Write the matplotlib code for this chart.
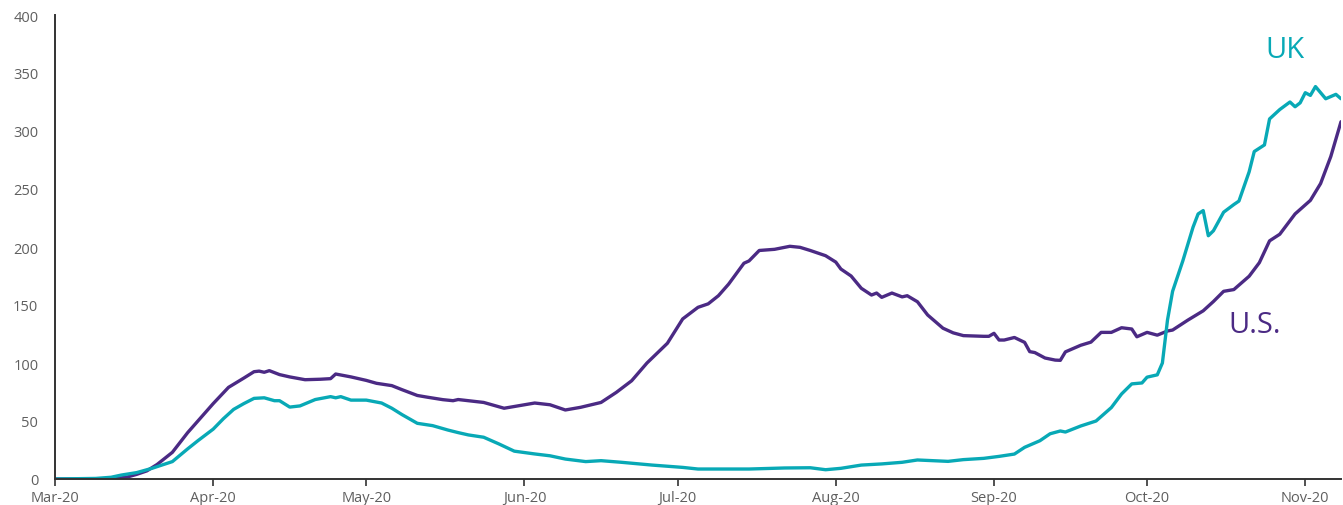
import matplotlib
matplotlib.use("Agg")
import matplotlib.pyplot as plt
import matplotlib.dates as mdates
import pandas as pd

# 7-day average of daily new cases per million (approx.)
us_dates = [
    "2020-03-01", "2020-03-12", "2020-03-15", "2020-03-17", "2020-03-19", "2020-03-21",
    "2020-03-24", "2020-03-27", "2020-03-30", "2020-04-01", "2020-04-04", "2020-04-07",
    "2020-04-09", "2020-04-10", "2020-04-11", "2020-04-12", "2020-04-14", "2020-04-16",
    "2020-04-19", "2020-04-22", "2020-04-24", "2020-04-25", "2020-04-28", "2020-05-01",
    "2020-05-03", "2020-05-06", "2020-05-08", "2020-05-11", "2020-05-13", "2020-05-16",
    "2020-05-18", "2020-05-19", "2020-05-21", "2020-05-24", "2020-05-26", "2020-05-28",
    "2020-05-30", "2020-06-03", "2020-06-06", "2020-06-08", "2020-06-09", "2020-06-12",
    "2020-06-16", "2020-06-19", "2020-06-22", "2020-06-25", "2020-06-29", "2020-07-02",
    "2020-07-05", "2020-07-07", "2020-07-09", "2020-07-11", "2020-07-14", "2020-07-15",
    "2020-07-17", "2020-07-20", "2020-07-23", "2020-07-25", "2020-07-27", "2020-07-30",
    "2020-08-01", "2020-08-02", "2020-08-04", "2020-08-06", "2020-08-08", "2020-08-09",
    "2020-08-10", "2020-08-12", "2020-08-14", "2020-08-15", "2020-08-17", "2020-08-19",
    "2020-08-22", "2020-08-24", "2020-08-26", "2020-08-30", "2020-08-31", "2020-09-01",
    "2020-09-02", "2020-09-03", "2020-09-05", "2020-09-07", "2020-09-08", "2020-09-09",
    "2020-09-11", "2020-09-13", "2020-09-14", "2020-09-15", "2020-09-18", "2020-09-20",
    "2020-09-22", "2020-09-24", "2020-09-26", "2020-09-28", "2020-09-29", "2020-10-01",
    "2020-10-03", "2020-10-05", "2020-10-06", "2020-10-09", "2020-10-12", "2020-10-14",
    "2020-10-16", "2020-10-18", "2020-10-21", "2020-10-23", "2020-10-25", "2020-10-27",
    "2020-10-30", "2020-11-02", "2020-11-04", "2020-11-06", "2020-11-08",
]
us_values = [
    0, 0, 1.5, 4, 7, 12.5,
    23, 40, 55, 65, 79, 87,
    92.5, 93, 92, 93.4, 90, 88,
    85.6, 86, 86.5, 90.5, 88, 85,
    82.5, 80.5, 77, 72, 70.5, 68.4,
    67.5, 68.5, 67.5, 66, 63.5, 61,
    62.5, 65.5, 64, 61, 59.5, 61.8,
    66, 74.7, 84.7, 100, 117, 138,
    148, 151, 158, 168, 186, 188,
    197, 198, 200.6, 199.7, 197, 192.5,
    187, 181, 175, 164.4, 158.6, 160.3,
    156.6, 160.3, 157, 158, 152.8, 141.4,
    130, 126, 123.6, 123, 123, 125.6,
    119.8, 119.8, 122, 117.8, 109.8, 109,
    104.3, 102.5, 102.3, 109.6, 115.3, 118,
    126.4, 126.4, 130.4, 129.3, 122.6, 126.4,
    124, 127.6, 128.4, 137, 145, 153,
    161.8, 163.3, 174.8, 186.5, 205.3, 211,
    228.5, 240.2, 254.7, 278, 308,
]

uk_dates = [
    "2020-03-01", "2020-03-09", "2020-03-12", "2020-03-14", "2020-03-17", "2020-03-20",
    "2020-03-24", "2020-03-27", "2020-03-29", "2020-04-01", "2020-04-03", "2020-04-05",
    "2020-04-07", "2020-04-09", "2020-04-11", "2020-04-13", "2020-04-14", "2020-04-16",
    "2020-04-18", "2020-04-21", "2020-04-24", "2020-04-25", "2020-04-26", "2020-04-28",
    "2020-05-01", "2020-05-04", "2020-05-06", "2020-05-08", "2020-05-11", "2020-05-14",
    "2020-05-17", "2020-05-19", "2020-05-21", "2020-05-24", "2020-05-27", "2020-05-30",
    "2020-06-03", "2020-06-06", "2020-06-09", "2020-06-13", "2020-06-16", "2020-06-20",
    "2020-06-26", "2020-07-02", "2020-07-05", "2020-07-15", "2020-07-22", "2020-07-27",
    "2020-07-30", "2020-08-02", "2020-08-06", "2020-08-10", "2020-08-14", "2020-08-17",
    "2020-08-20", "2020-08-23", "2020-08-26", "2020-08-30", "2020-09-02", "2020-09-05",
    "2020-09-07", "2020-09-10", "2020-09-12", "2020-09-14", "2020-09-15", "2020-09-18",
    "2020-09-21", "2020-09-24", "2020-09-26", "2020-09-28", "2020-09-30", "2020-10-01",
    "2020-10-03", "2020-10-04", "2020-10-05", "2020-10-06", "2020-10-08", "2020-10-10",
    "2020-10-11", "2020-10-12", "2020-10-13", "2020-10-14", "2020-10-15", "2020-10-16",
    "2020-10-18", "2020-10-19", "2020-10-21", "2020-10-22", "2020-10-24", "2020-10-25",
    "2020-10-27", "2020-10-29", "2020-10-30", "2020-10-31", "2020-11-01", "2020-11-02",
    "2020-11-03", "2020-11-05", "2020-11-07", "2020-11-08",
]
uk_values = [
    0, 0.5, 1.5, 3.4, 5.5, 9.2,
    15, 26, 33, 43, 52, 60,
    65, 69.5, 70, 67.5, 67.5, 62,
    63, 68.5, 71, 70, 71, 68,
    68, 65.5, 61, 55.5, 48, 46,
    42.2, 40, 38, 36, 30.2, 24,
    21.6, 20, 17.2, 15, 15.8, 14.4,
    12, 10, 8.6, 8.6, 9.5, 9.7,
    8, 9.2, 12, 13, 14.4, 16.4,
    15.8, 15.2, 16.7, 17.8, 19.5, 21.5,
    27.3, 33, 39, 41.4, 40.5, 45.7,
    50, 61.6, 73.3, 82, 82.8, 87.8,
    89.8, 100, 137, 161.8, 188, 217,
    228.5, 231.4, 209.7, 214, 222, 230,
    236.6, 239.6, 264.8, 282.3, 288, 310.4,
    318.5, 325, 320.9, 324.3, 333, 330.7,
    338.3, 327.8, 331.6, 327.8,
]

y_ticks = [0, 50, 100, 150, 200, 250, 300, 350, 400]
month_ticks = ["2020-03-01", "2020-04-01", "2020-05-01", "2020-06-01", "2020-07-01",
               "2020-08-01", "2020-09-01", "2020-10-01", "2020-11-01"]

PURPLE = "#4b2a84"
TEAL = "#08a9b6"
TICK_GREY = "#5f5f5f"

plt.rcParams["font.family"] = ["Open Sans", "DejaVu Sans"]

fig = plt.figure(figsize=(13.43, 5.06), dpi=100)
ax = fig.add_axes([55 / 1343, 26 / 506, 1286 / 1343, 464 / 506])

ax.plot(pd.to_datetime(us_dates), us_values, color=PURPLE, lw=2.4,
        solid_joinstyle="round", solid_capstyle="round")
ax.plot(pd.to_datetime(uk_dates), uk_values, color=TEAL, lw=2.4,
        solid_joinstyle="round", solid_capstyle="round")

ax.text(pd.Timestamp("2020-10-28"), 370, "UK", color=TEAL, fontsize=21,
        ha="center", va="center")
ax.text(pd.Timestamp("2020-10-22"), 133, "U.S.", color=PURPLE, fontsize=21,
        ha="center", va="center")

ax.set_xlim(pd.Timestamp("2020-03-01"), pd.Timestamp("2020-11-08"))
ax.set_ylim(0, 400)
ax.set_yticks(y_ticks)
ax.set_xticks(pd.to_datetime(month_ticks))
ax.xaxis.set_major_formatter(mdates.DateFormatter("%b-%y"))

for side in ("top", "right"):
    ax.spines[side].set_visible(False)
for side in ("left", "bottom"):
    ax.spines[side].set_color("#333333")
    ax.spines[side].set_linewidth(1.4)

ax.tick_params(axis="y", length=0, pad=12, labelsize=10.5, labelcolor=TICK_GREY)
ax.tick_params(axis="x", length=5, width=1.2, color="#333333", pad=3,
               labelsize=10.5, labelcolor=TICK_GREY)

fig.savefig("out.png", dpi=100)
